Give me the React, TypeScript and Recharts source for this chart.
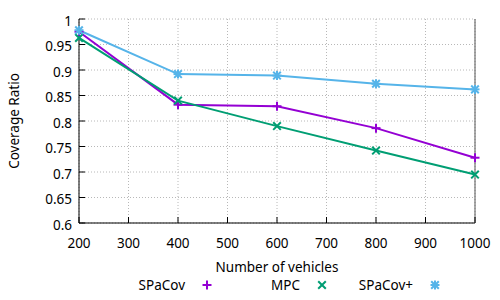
import { LineChart, Line, XAxis, YAxis, CartesianGrid, Legend } from 'recharts';

const vehicles = [200, 400, 600, 800, 1000];
const spacov = [0.975, 0.832, 0.829, 0.786, 0.728];
const mpc = [0.963, 0.840, 0.790, 0.742, 0.695];
const spacovPlus = [0.978, 0.892, 0.889, 0.873, 0.862];

const xTicks = [200, 300, 400, 500, 600, 700, 800, 900, 1000];
const yTicks = [0.6, 0.65, 0.7, 0.75, 0.8, 0.85, 0.9, 0.95, 1];

const FONT = '"Noto Sans", sans-serif';
const FS = 13.5;

type Marker = 'plus' | 'cross' | 'star';

const series: { key: string; name: string; color: string; marker: Marker }[] = [
  { key: 'spacov', name: 'SPaCov', color: '#9400d3', marker: 'plus' },
  { key: 'mpc', name: 'MPC', color: '#009e73', marker: 'cross' },
  { key: 'spacovPlus', name: 'SPaCov+', color: '#56b4e9', marker: 'star' },
];

const data = vehicles.map((v, i) => ({
  vehicles: v,
  spacov: spacov[i],
  mpc: mpc[i],
  spacovPlus: spacovPlus[i],
}));

function markerLines(kind: Marker, cx: number, cy: number, color: string) {
  const r = 4.5;
  const d = 3.8;
  const plus = [
    <line key="h" x1={cx - r} y1={cy} x2={cx + r} y2={cy} />,
    <line key="v" x1={cx} y1={cy - r} x2={cx} y2={cy + r} />,
  ];
  const cross = [
    <line key="a" x1={cx - d} y1={cy - d} x2={cx + d} y2={cy + d} />,
    <line key="b" x1={cx - d} y1={cy + d} x2={cx + d} y2={cy - d} />,
  ];
  const parts = kind === 'plus' ? plus : kind === 'cross' ? cross : [...plus, ...cross];
  return (
    <g stroke={color} strokeWidth={2} fill="none">
      {parts}
    </g>
  );
}

const makeDot = (kind: Marker, color: string) => (props: any) => {
  const { cx, cy, index } = props;
  if (cx == null || cy == null) return <g key={index} />;
  return <g key={index}>{markerLines(kind, cx, cy, color)}</g>;
};

// gnuplot-like ticks: label outside, short tick mark inside the plot
function LeftTick(props: any) {
  const { x, y, payload } = props;
  return (
    <g>
      <line x1={x + 7} x2={x + 13} y1={y} y2={y} stroke="#000" />
      <text x={x} y={y} dy="0.5em" textAnchor="end" fontFamily={FONT} fontSize={FS} fill="#000">
        {payload.value}
      </text>
    </g>
  );
}

function BottomTick(props: any) {
  const { x, y, payload } = props;
  return (
    <g>
      <line x1={x} x2={x} y1={y - 15} y2={y - 21} stroke="#000" />
      <text x={x} y={y} dy="0.71em" textAnchor="middle" fontFamily={FONT} fontSize={FS} fill="#000">
        {payload.value}
      </text>
    </g>
  );
}

function RightTick(props: any) {
  const { x, y } = props;
  return <line x1={x} x2={x - 6} y1={y} y2={y} stroke="#333" />;
}

function TopTick(props: any) {
  const { x, y } = props;
  return <line x1={x} x2={x} y1={y} y2={y + 6} stroke="#333" />;
}

function KeyBox() {
  // text right-aligned, sample marker to its right (gnuplot style)
  const textEnds = [185, 300, 413];
  return (
    <svg width={500} height={20} style={{ display: 'block' }}>
      {series.map((s, i) => (
        <g key={s.key}>
          <text x={textEnds[i]} y={10} dy="0.355em" textAnchor="end" fontFamily={FONT} fontSize={FS} fill="#000">
            {s.name}
          </text>
          {markerLines(s.marker, textEnds[i] + 22, 10, s.color)}
        </g>
      ))}
    </svg>
  );
}

export default function App() {
  return (
    <div style={{ position: 'absolute', left: 0, top: 0, width: 500, height: 300, background: '#fff' }}>
      <LineChart width={500} height={300} data={data} margin={{ top: 19, right: 0, left: 0, bottom: 0 }}>
        <CartesianGrid stroke="#b8b8b8" strokeDasharray="1 2" />
        <XAxis
          dataKey="vehicles"
          type="number"
          domain={[200, 1000]}
          ticks={xTicks}
          height={77}
          stroke="#000"
          tickLine={false}
          tickSize={0}
          tickMargin={15}
          tick={<BottomTick />}
          label={{ value: 'Number of vehicles', position: 'insideTop', offset: 39, fontFamily: FONT, fontSize: FS, fill: '#000' }}
        />
        <XAxis
          xAxisId="top"
          orientation="top"
          dataKey="vehicles"
          type="number"
          domain={[200, 1000]}
          ticks={xTicks}
          height={0}
          stroke="#333"
          tickLine={false}
          tickSize={0}
          tickMargin={0}
          tick={<TopTick />}
        />
        <YAxis
          type="number"
          domain={[0.6, 1]}
          ticks={yTicks}
          width={79}
          stroke="#000"
          tickLine={false}
          tickSize={0}
          tickMargin={7}
          tick={<LeftTick />}
          label={{
            value: 'Coverage Ratio',
            angle: -90,
            position: 'insideLeft',
            offset: 14,
            fontFamily: FONT,
            fontSize: FS,
            fill: '#000',
            style: { textAnchor: 'middle' },
          }}
        />
        <YAxis
          yAxisId="right"
          orientation="right"
          type="number"
          domain={[0.6, 1]}
          ticks={yTicks}
          width={25}
          stroke="#555"
          tickLine={false}
          tickSize={0}
          tickMargin={0}
          tick={<RightTick />}
        />
        {series.map((s) => (
          <Line
            key={s.key}
            dataKey={s.key}
            name={s.name}
            stroke={s.color}
            strokeWidth={2}
            type="linear"
            dot={makeDot(s.marker, s.color)}
            activeDot={false}
            isAnimationActive={false}
          />
        ))}
        <Legend
          layout="horizontal"
          verticalAlign="middle"
          align="center"
          content={() => <KeyBox />}
          wrapperStyle={{ left: 0, top: 275, width: 500, height: 20 }}
        />
      </LineChart>
    </div>
  );
}
